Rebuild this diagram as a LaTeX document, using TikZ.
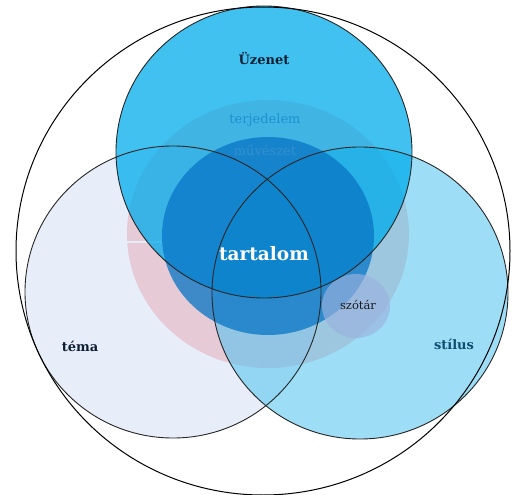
\documentclass[tikz,border=0pt]{standalone}
\usepackage{fontspec}
\setmainfont{DejaVu Serif}
\definecolor{temaszin}{HTML}{AFC3EB}
\definecolor{stilusszin}{HTML}{4AC2EF}
\definecolor{uzenetszin}{HTML}{00ACEB}
\definecolor{terjszin}{HTML}{FFCECD}
\definecolor{muveszszin}{HTML}{0775C5}
\definecolor{szotarszin}{HTML}{9AB2DE}
\definecolor{cimszin}{HTML}{0D1F33}
\definecolor{stilusbetu}{HTML}{0F4E70}
\definecolor{halvany}{HTML}{1C92D0}
\definecolor{muveszbetu}{HTML}{3590CC}
\tikzset{
    korvonal/.style={draw=black!85,line width=0.9pt},
    cimke/.style={font=\bfseries\fontsize{13}{15}\selectfont,text=cimszin},
}
\begin{document}
\begin{tikzpicture}[x=1pt,y=-1pt]
        \useasboundingbox (0,0) rectangle (512,495);
        %% Inner circles
        \fill[terjszin] (268,234) ellipse [x radius=141,y radius=134];
        \draw[white,line width=1.5pt] (127,242) -- (162,242);
        %% Three big circles
        \fill[temaszin,opacity=0.3] (173,292) ellipse [x radius=148,y radius=146];
        \fill[stilusszin,opacity=0.54] (360,293) ellipse [x radius=148,y radius=146];
        \fill[uzenetszin,opacity=0.75] (264,152) ellipse [x radius=148,y radius=146];
        \fill[muveszszin,opacity=0.75] (268,236) ellipse [x radius=106,y radius=99];
        \fill[szotarszin,opacity=0.65] (356,306) ellipse [x radius=34,y radius=32];
        %% Outlines
        \draw[korvonal] (173,292) ellipse [x radius=148,y radius=146];
        \draw[korvonal] (360,293) ellipse [x radius=148,y radius=146];
        \draw[korvonal] (264,152) ellipse [x radius=148,y radius=146];
        \draw[black,line width=1pt] (263,251) ellipse [x radius=247,y radius=244];
        %% Labels
        \node[cimke] (uzenet) at (264,58) {Üzenet};
        \node[cimke] (tema) at (80,346) {téma};
        \node[cimke,text=stilusbetu] (stilus) at (454,344) {stílus};
        \node[font=\bfseries\fontsize{18.5}{22}\selectfont,text=white] (tartalom) at (264,254) {tartalom};
        \node[font=\fontsize{13}{15}\selectfont,text=halvany] (terjedelem) at (265,120) {terjedelem};
        \node[font=\fontsize{13}{15}\selectfont,text=muveszbetu] (muveszet) at (265,150) {művészet};
        \node[font=\fontsize{11.5}{13}\selectfont,text=black!90] (szotar) at (358,305) {szótár};
    \end{tikzpicture}
\end{document}
